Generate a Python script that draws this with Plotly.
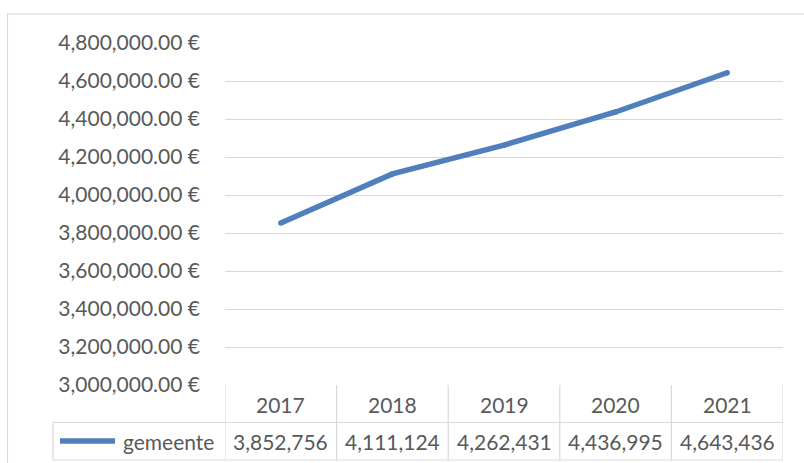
import plotly.graph_objects as go

years = ["2017", "2018", "2019", "2020", "2021"]
gemeente = [3852756, 4111124, 4262431, 4436995, 4643436]
series_name = "gemeente"
y_ticks = [3000000, 3200000, 3400000, 3600000, 3800000, 4000000, 4200000, 4400000, 4600000, 4800000]
y_tick_labels = [f"{v:,.2f} \u20ac" for v in y_ticks]

W, H = 804, 463
L, R, T, B = 225, 783, 43, 385
PW, PH = R - L, B - T

def px(x):
    return (x - L) / PW

def py(y):
    return (B - y) / PH

BLUE = "#4F7FBC"
GRID = "#D9D9D9"
TXT = "#595959"
FONT = "Lato"
FS = 21

fig = go.Figure()
fig.add_trace(go.Scatter(
    x=years, y=gemeente, mode="lines+markers",
    line=dict(color=BLUE, width=5.5),
    marker=dict(color=BLUE, size=5.5, line=dict(width=0)),
    showlegend=False, hoverinfo="skip",
))

shapes = []
shapes.append(dict(type="rect", xref="paper", yref="paper",
                   x0=px(7.5), x1=px(830), y0=py(14), y1=py(490),
                   line=dict(color=GRID, width=1.2), layer="below"))
row1_top, row1_bot, row2_bot = 385, 422.5, 460
for yy in (row1_bot, row2_bot):
    shapes.append(dict(type="line", xref="paper", yref="paper",
                       x0=px(53), x1=px(R), y0=py(yy), y1=py(yy),
                       line=dict(color=GRID, width=1.2)))
shapes.append(dict(type="line", xref="paper", yref="paper",
                   x0=px(53), x1=px(53), y0=py(row1_bot), y1=py(row2_bot),
                   line=dict(color=GRID, width=1.2)))
for i in range(len(years) + 1):
    xb = i - 0.5
    shapes.append(dict(type="line", xref="x", yref="paper",
                       x0=xb, x1=xb, y0=py(row1_top), y1=py(row2_bot),
                       line=dict(color=GRID, width=1.2)))
shapes.append(dict(type="line", xref="paper", yref="paper",
                   x0=px(60), x1=px(115), y0=py(441), y1=py(441),
                   line=dict(color=BLUE, width=5.5)))

annotations = []
for i, (yr, v) in enumerate(zip(years, gemeente)):
    annotations.append(dict(x=i, xref="x", y=py(404), yref="paper", text=yr,
                            showarrow=False, xanchor="center", yanchor="middle",
                            font=dict(family=FONT, size=FS, color=TXT)))
    annotations.append(dict(x=i, xref="x", y=py(441), yref="paper", text=f"{v:,}",
                            showarrow=False, xanchor="center", yanchor="middle",
                            font=dict(family=FONT, size=FS, color=TXT)))
annotations.append(dict(x=px(216), xref="paper", y=py(441), yref="paper", text=series_name,
                        showarrow=False, xanchor="right", yanchor="middle",
                        font=dict(family=FONT, size=FS, color=TXT)))

fig.update_layout(
    width=W, height=H,
    margin=dict(l=L, r=W - R, t=T, b=H - B, pad=0),
    paper_bgcolor="white", plot_bgcolor="white",
    shapes=shapes, annotations=annotations,
    xaxis=dict(type="category", range=[-0.5, len(years) - 0.5], showticklabels=False,
               showgrid=False, zeroline=False, showline=False, ticks=""),
    yaxis=dict(range=[3000000, 4800000], tickmode="array", tickvals=y_ticks, ticktext=y_tick_labels,
               showgrid=True, gridcolor=GRID, gridwidth=1.2, zeroline=False, showline=False,
               ticks="", ticklabelstandoff=24,
               tickfont=dict(family=FONT, size=FS, color=TXT)),
    font=dict(family=FONT, size=FS, color=TXT),
)

fig.write_html("out.html", config={"displayModeBar": False},
               post_script="document.body.style.margin='0';document.body.style.padding='0';")
